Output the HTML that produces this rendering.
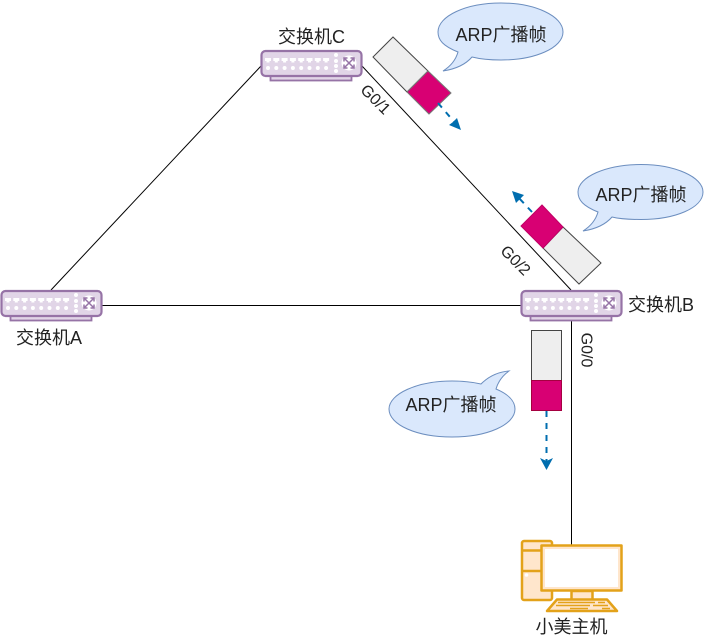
<!DOCTYPE html>
<html>
<head>
<meta charset="utf-8">
<style>
html,body{margin:0;padding:0;background:#fff;}
svg{display:block;}
text{font-family:"Liberation Sans","Noto Sans CJK SC",sans-serif;fill:#222;}
</style>
</head>
<body>
<svg width="712" height="639" viewBox="0 0 712 639" xmlns="http://www.w3.org/2000/svg">
<defs>
<g id="sw">
  <rect x="10" y="26" width="81" height="4.500" fill="#e1d5e7" stroke="#9673a6" stroke-width="1.800"/>
  <rect x="1" y="1" width="100" height="25" rx="4" fill="#e1d5e7" stroke="#9673a6" stroke-width="2.200"/>
  <g fill="#fff">
    <path d="M4.500 8h6v3H9v1.500H6V11H4.500z"/>
    <path d="M12.800 8h6v3h-1.500v1.500h-3V11h-1.500z"/>
    <path d="M21.100 8h6v3h-1.500v1.500h-3V11h-1.500z"/>
    <path d="M29.400 8h6v3h-1.500v1.500h-3V11h-1.500z"/>
    <path d="M37.700 8h6v3h-1.500v1.500h-3V11h-1.500z"/>
    <path d="M46 8h6v3h-1.500v1.500h-3V11H46z"/>
    <path d="M54.300 8h6v3h-1.500v1.500h-3V11h-1.500z"/>
    <path d="M62.600 8h6v3h-1.500v1.500h-3V11h-1.500z"/>
    <circle cx="7.500" cy="18" r="2"/><circle cx="15.800" cy="18" r="2"/><circle cx="24.100" cy="18" r="2"/><circle cx="32.400" cy="18" r="2"/>
    <circle cx="40.700" cy="18" r="2"/><circle cx="49" cy="18" r="2"/><circle cx="57.300" cy="18" r="2"/><circle cx="65.600" cy="18" r="2"/>
    <circle cx="75.500" cy="5" r="2"/><circle cx="75.500" cy="11" r="2"/><circle cx="75.500" cy="16" r="2"/><circle cx="75.500" cy="21" r="2"/>
    <circle cx="88.500" cy="13" r="7.500"/>
  </g>
  <g stroke="#9673a6" stroke-width="1.500" fill="none">
    <path d="M84 8.500L93 17.500M93 8.500L84 17.500"/>
    <path d="M83.500 11.500V8H87M93.500 11.500V8H90M83.500 14.500V18H87M93.500 14.500V18H90"/>
  </g>
</g>
</defs>

<g stroke="#000" stroke-width="1" fill="none">
  <path d="M261 66L51 290"/>
  <path d="M362 66L571 290"/>
  <path d="M102 305.500H521"/>
  <path d="M571.500 317V546"/>
</g>

<use href="#sw" x="260.500" y="50"/>
<use href="#sw" x="0.500" y="290"/>
<use href="#sw" x="520.500" y="290"/>

<!-- Frame C -->
<polygon points="393,37 373,57 407,92 428,71" fill="#eeeeee" stroke="#444" stroke-width="1"/>
<polygon points="428,71 407,92 429,114 451,93" fill="#d80073" stroke="#777" stroke-width="1"/>
<path d="M438 103L456 124" stroke="#006eaf" stroke-width="2" stroke-dasharray="6 6" fill="none"/>
<polygon points="461,130 449,125 453,122 457,118" fill="#006eaf"/>

<!-- Frame B -->
<polygon points="563,227 543,248 579,284 601,263" fill="#eeeeee" stroke="#444" stroke-width="1"/>
<polygon points="542,205 521,226 543,248 563,227" fill="#d80073" stroke="#c00065" stroke-width="1"/>
<path d="M532 212L517 196" stroke="#006eaf" stroke-width="2" stroke-dasharray="6 6" fill="none"/>
<polygon points="512,191 524,195 520,199 516,203" fill="#006eaf"/>

<!-- Frame A -->
<rect x="531.500" y="330.500" width="30" height="50" fill="#eeeeee" stroke="#444" stroke-width="1"/>
<rect x="531.500" y="380.500" width="30" height="30" fill="#d80073" stroke="#a50040" stroke-width="1"/>
<path d="M546.500 411V462" stroke="#006eaf" stroke-width="2" stroke-dasharray="6 6" fill="none"/>
<polygon points="546.500,470 540,458 546.500,461 553,458" fill="#006eaf"/>

<!-- Callouts -->
<path d="M458 52C443 46 438 40 438 32C438 16 466 3 501 3C535 3 563 16 563 32C563 48 535 60 501 60C490 60 480 59 472 57C466 64 456 69 443 71C451 66 456 59 458 52Z" fill="#dae8fc" stroke="#6c8ebf" stroke-width="1"/>
<path d="M598 212C583 206 578 200 578 192C578 177 606 164.500 641 164.500C675 164.500 703 177 703 192C703 208 675 219.500 641 219.500C630 219.500 620 219 612 217C606 224 596 229 583 231C591 226 596 219 598 212Z" fill="#dae8fc" stroke="#6c8ebf" stroke-width="1"/>
<path d="M496 389C508 394 515 401 515 409C515 425 487 437 452 437C417 437 389 425 389 409C389 394 417 381 452 381C462 381 472 382 481 384C488 377 497 372 509 371C502 376 498 382 496 389Z" fill="#dae8fc" stroke="#6c8ebf" stroke-width="1"/>

<text x="501" y="41" font-size="18" text-anchor="middle">ARP广播帧</text>
<text x="641" y="201" font-size="18" text-anchor="middle">ARP广播帧</text>
<text x="451" y="411" font-size="18" text-anchor="middle">ARP广播帧</text>

<text x="311.500" y="43" font-size="18" text-anchor="middle">交换机C</text>
<text x="49" y="344" font-size="18" text-anchor="middle">交换机A</text>
<text x="661" y="311" font-size="18" text-anchor="middle">交换机B</text>
<text x="571.500" y="633" font-size="18" text-anchor="middle">小美主机</text>

<text transform="translate(375 100) rotate(45)" font-size="16" text-anchor="middle" dominant-baseline="central">G0/1</text>
<text transform="translate(515 261) rotate(45)" font-size="16" text-anchor="middle" dominant-baseline="central">G0/2</text>
<text transform="translate(586 350) rotate(90)" font-size="16" text-anchor="middle" dominant-baseline="central">G0/0</text>

<!-- PC -->
<g stroke="#e3a21a" stroke-width="2.500" stroke-linejoin="round">
  <rect x="522" y="541" width="30" height="59" rx="2" fill="#ffe6cc"/>
  <path d="M522 550.500H552M522 571H552" fill="none"/>
  <rect x="541.500" y="545.500" width="80" height="45" fill="#ffe6cc"/>
  <rect x="571.500" y="591" width="21" height="9" fill="#ffe6cc"/>
  <polygon points="547,611 617,611 607,599.500 557,599.500" fill="#ffe6cc"/>
  <path d="M558 602.500H595M598 602.500H605M556 605.500H590M593 605.500H608M570 608.500H588M602 608.500H610" fill="none" stroke-width="1.500"/>
</g>
<rect x="545" y="549" width="73" height="38" fill="#fff"/>
<circle cx="526.500" cy="575" r="1.800" fill="#fff"/>
</svg>
</body>
</html>
